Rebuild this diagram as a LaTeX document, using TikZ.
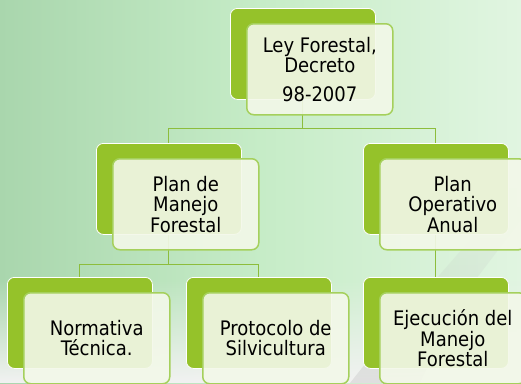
\documentclass[tikz,border=0pt]{standalone}
\usepackage{fontspec}
\setmainfont{DejaVu Sans Condensed}
\usetikzlibrary{fadings}
\definecolor{leafgreen}{HTML}{95C22A}
\definecolor{paleleaf}{HTML}{F3F8E9}
\definecolor{rimgreen}{HTML}{A5D05C}
\definecolor{stemgreen}{HTML}{8DBD3C}
\definecolor{mintleft}{HTML}{A9D6AD}
\definecolor{mintmid}{HTML}{C6ECC7}
\definecolor{mintright}{HTML}{E1F5E1}
\tikzset{
  x=1pt, y=-1pt,
}
\tikzstyle{every node}=[font=\fontsize{20}{20.5}\selectfont]
\tikzstyle{backbox}=[draw=white, line width=.8pt, fill=leafgreen, rounded corners=7pt,
  minimum width=145pt, minimum height=91pt, anchor=north west, inner sep=0pt]
\tikzstyle{frontbox}=[draw=rimgreen, line width=1.5pt, fill=paleleaf, fill opacity=.9,
  text opacity=1, rounded corners=7pt, minimum width=146pt, minimum height=91pt,
  anchor=north west, align=center, inner sep=0pt]
\tikzstyle{link}=[stemgreen, line width=1pt]

\begin{document}
\begin{tikzpicture}
    % fondo
    \shade[left color=mintleft, right color=mintright, middle color=mintmid]
      (0,0) rectangle (521,383);
    \fill[gray!10, path fading=north] (0,280) rectangle (521,383);
    \fill[gray!50, path fading=north, opacity=.35] (350,383) -- (400,320) -- (470,240) -- (521,170)
      -- (521,220) -- (460,300) -- (420,383) -- cycle;
    \useasboundingbox (0,0) rectangle (521,383);

    % cajas de fondo
    \node[backbox] (ley-b) at (230,8) {};
    \node[backbox] (plan-b) at (96,143) {};
    \node[backbox] (poa-b) at (363,143) {};
    \node[backbox] (norm-b) at (7,277) {};
    \node[backbox] (prot-b) at (186,277) {};
    \node[backbox] (ejec-b) at (363,277) {};

    % conectores
    \draw[link] (ley-b.south) -- ([yshift=-29pt]ley-b.south) -| (plan-b.north);
    \draw[link] ([yshift=-29pt]ley-b.south) -| (poa-b.north);
    \draw[link] (plan-b.south) -- ([yshift=-30pt]plan-b.south) -| (norm-b.north);
    \draw[link] ([yshift=-30pt]plan-b.south) -| (prot-b.north);
    \draw[link] (poa-b.south) -- (ejec-b.north);

    % cajas de texto
    \node[frontbox] (ley) at ([shift={(16,15)}]ley-b.north west)
      {Ley Forestal,\\Decreto\\[8pt]98-2007};
    \node[frontbox] (plan) at ([shift={(16,15)}]plan-b.north west) {Plan de\\Manejo\\Forestal};
    \node[frontbox] (poa) at ([shift={(16,15)}]poa-b.north west) {Plan\\Operativo\\Anual};
    \node[frontbox] (norm) at ([shift={(16,15)}]norm-b.north west) {Normativa\\Técnica.};
    \node[frontbox] (prot) at ([shift={(16,15)}]prot-b.north west) {Protocolo de\\Silvicultura};
    \node[frontbox] (ejec) at ([shift={(16,15)}]ejec-b.north west) {Ejecución del\\Manejo\\Forestal};
  \end{tikzpicture}
\end{document}
